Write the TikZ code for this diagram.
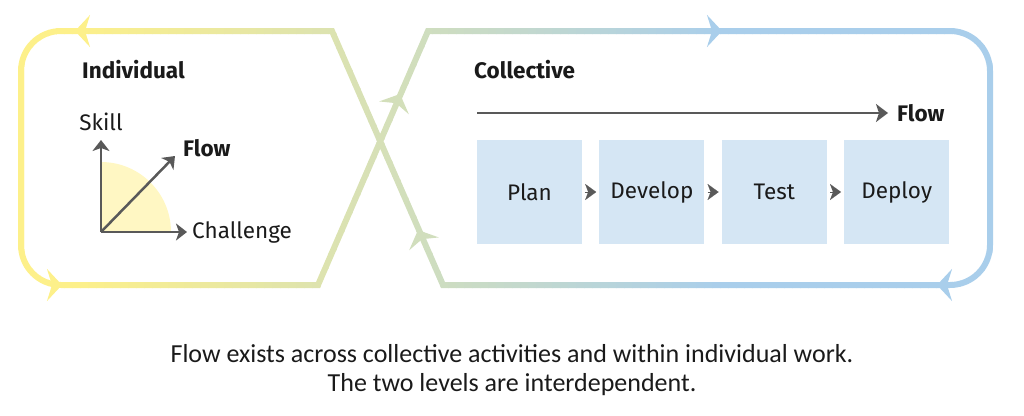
\documentclass[tikz,border=0pt]{standalone}
\usepackage{fontspec}
\setmainfont{Fira Sans}
\newfontfamily\captionfont{Carlito}
\usetikzlibrary{arrows.meta,positioning}

\definecolor{loopyellow}{HTML}{FDF08A}
\definecolor{loopblue}{HTML}{A9CEEB}
\definecolor{boxblue}{HTML}{D5E6F4}
\definecolor{arrowgray}{HTML}{595959}
\definecolor{zonefill}{HTML}{FFF7C3}
\definecolor{inkblack}{HTML}{1A1A1A}

\tikzset{
  loopline/.style={line width=6pt, line join=miter},
  looptip/.style={line width=6pt, -{Stealth[length=15pt, width=32pt, inset=5pt]}},
  axis/.style={arrowgray, line width=2.5pt, -{Stealth[length=11pt, width=17pt, inset=3pt]}},
  flowarrow/.style={arrowgray, line width=2pt, -{Stealth[length=12pt, width=18pt, inset=3pt]}},
  chevron/.style={arrowgray, line width=0.1pt, -{Stealth[length=11pt, width=16pt, inset=3pt]}, shorten <=3pt, shorten >=3pt},
  plain/.style={inner sep=0pt, text=inkblack, font=\fontsize{22.5}{27}\selectfont},
  heading/.style={plain, font=\fontsize{22.5}{27}\selectfont\bfseries},
  stage/.style={plain, fill=boxblue, minimum width=105pt, minimum height=104pt},
}

% figure-eight loop, pixel coordinates
\newcommand\eightpath{(428,31) -- (950,31) arc[start angle=90, end angle=0, radius=40pt]
  -- (990,245) arc[start angle=0, end angle=-90, radius=40pt]
  -- (443,285) -- (332,31) -- (61,31) arc[start angle=90, end angle=180, radius=40pt]
  -- (21,245) arc[start angle=180, end angle=270, radius=40pt] -- (318,285) -- cycle}

\begin{document}
\begin{tikzpicture}[x=1pt, y=-1pt]
  \useasboundingbox (0,0) rectangle (1024,415);

  % loop with a left-to-right colour blend
  \foreach \i in {0,...,127} {
    \pgfmathsetmacro\mix{max(0,min(100,(8*\i+4-80)/6.4))}
    \colorlet{stripe}{loopblue!\mix!loopyellow}
    \begin{scope}
      \clip (8*\i,0) rectangle (8*\i+8.6,415);
      \draw[loopline, stripe] \eightpath;
    \end{scope}
  }
  \draw[looptip, loopyellow] (80,31) -- (75,31);
  \draw[looptip, loopyellow] (57,285) -- (62,285);
  \draw[looptip, loopblue] (717,31) -- (722,31);
  \draw[looptip, loopblue] (942,285) -- (937,285);
  \draw[looptip, loopblue!50!loopyellow] (398.4,97.7) -- (400,94);
  \draw[looptip, loopblue!53!loopyellow] (419.6,233.7) -- (418,230);

  % individual
  \node (individual) [heading, anchor=base west] at (82,78) {Individual};
  \coordinate (origin) at (101,232);
  \coordinate (skilltip) at (101,140);
  \coordinate (challtip) at (187,232);
  \coordinate (flowtip) at (175,156);
  \fill[zonefill] (origin) -- ++(70,0) arc[start angle=0, end angle=90, radius=70pt] -- cycle;
  \draw[axis] (origin) -- (skilltip);
  \draw[axis] (origin) -- (challtip);
  \draw[axis] (origin) -- (flowtip);
  \node (skill) [plain, above=9pt of skilltip] {Skill};
  \node (challenge) [plain, right=5pt of challtip] {Challenge};
  \node (flowind) [heading, anchor=base west] at ([xshift=8pt]flowtip) {Flow};

  % collective
  \node (collective) [heading, anchor=base west] at (474,78) {Collective};
  \coordinate (flowstart) at (477,113);
  \coordinate (flowend) at (888,113);
  \draw[flowarrow] (flowstart) -- (flowend);
  \node (flowcol) [heading, right=9pt of flowend] {Flow};
  \node (plan) [stage] at (529.5,192) {Plan};
  \node (develop) [stage, right=17pt of plan] {Develop};
  \node (test) [stage, right=17pt of develop] {Test};
  \node (deploy) [stage, right=17pt of test] {Deploy};
  \draw[chevron] (plan) -- (develop);
  \draw[chevron] (develop) -- (test);
  \draw[chevron] (test) -- (deploy);

  \node (caption) [plain, font=\captionfont\fontsize{26}{29}\selectfont, align=center, anchor=base] at (512,391)
    {Flow exists across collective activities and within individual work.\\The two levels are interdependent.};
\end{tikzpicture}
\end{document}
